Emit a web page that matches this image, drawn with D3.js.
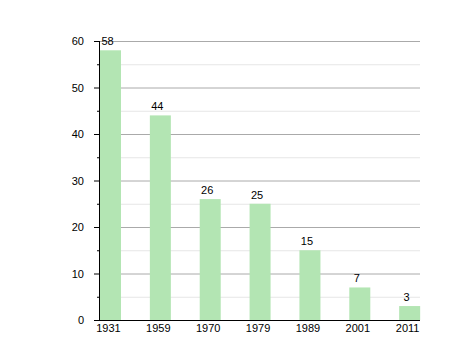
<!DOCTYPE html>
<html>
<head>
<meta charset="utf-8">
<script src="https://cdn.jsdelivr.net/npm/d3@7"></script>
<style>
  body { margin: 0; background: #fff; }
  text { font-family: "Liberation Sans", Arial, sans-serif; font-size: 11px; fill: #000; }
</style>
</head>
<body>
<svg id="chart" width="458" height="360"></svg>
<script>
const years = ["1931", "1959", "1970", "1979", "1989", "2001", "2011"];
const values = [58, 44, 26, 25, 15, 7, 3];
const majorTicks = [0, 10, 20, 30, 40, 50, 60];
const minorTicks = [5, 15, 25, 35, 45, 55];

const svg = d3.select("#chart");
const plotLeft = 99, plotRight = 420, plotTop = 41, plotBottom = 320;

const y = d3.scaleLinear().domain([0, 60]).range([plotBottom, plotTop]);
const step = 49.86;
const x = d3.scaleBand().domain(years).range([100, 100 + step * years.length]).padding(0);
const barW = 21;

// minor grid
svg.append("g").selectAll("line").data(minorTicks).enter().append("line")
  .attr("x1", plotLeft).attr("x2", plotRight)
  .attr("y1", d => y(d) + 0.5).attr("y2", d => y(d) + 0.5)
  .attr("stroke", "#e6e6e6");

// major grid
svg.append("g").selectAll("line").data(majorTicks.filter(d => d > 0)).enter().append("line")
  .attr("x1", plotLeft).attr("x2", plotRight)
  .attr("y1", d => y(d) + 0.5).attr("y2", d => y(d) + 0.5)
  .attr("stroke", "#aaaaaa");

// bars
svg.append("g").selectAll("rect").data(values).enter().append("rect")
  .attr("x", (d, i) => x(years[i]))
  .attr("y", d => y(d))
  .attr("width", barW)
  .attr("height", d => plotBottom - y(d))
  .attr("fill", "#b3e5b3");

// value labels
svg.append("g").selectAll("text").data(values).enter().append("text")
  .attr("x", (d, i) => x(years[i]) + barW / 2 - 3)
  .attr("y", d => y(d) - 5)
  .attr("text-anchor", "middle")
  .text(d => d);

// y axis
const yAxis = svg.append("g");
yAxis.append("line").attr("x1", plotLeft + 0.5).attr("x2", plotLeft + 0.5)
  .attr("y1", plotTop).attr("y2", plotBottom).attr("stroke", "#000");
yAxis.selectAll(".maj").data(majorTicks).enter().append("line")
  .attr("x1", plotLeft - 5).attr("x2", plotLeft)
  .attr("y1", d => y(d) + 0.5).attr("y2", d => y(d) + 0.5)
  .attr("stroke", "#000");
yAxis.selectAll(".min").data(minorTicks).enter().append("line")
  .attr("x1", plotLeft - 2).attr("x2", plotLeft)
  .attr("y1", d => y(d) + 0.5).attr("y2", d => y(d) + 0.5)
  .attr("stroke", "#000");
yAxis.selectAll("text").data(majorTicks).enter().append("text")
  .attr("x", 84)
  .attr("y", d => y(d) + 4)
  .attr("text-anchor", "end")
  .text(d => d);

// x axis
svg.append("line").attr("x1", plotLeft).attr("x2", plotRight)
  .attr("y1", plotBottom + 0.5).attr("y2", plotBottom + 0.5).attr("stroke", "#000");
svg.append("g").selectAll("text").data(years).enter().append("text")
  .attr("x", d => x(d) + barW / 2 - 2)
  .attr("y", plotBottom + 12)
  .attr("text-anchor", "middle")
  .text(d => d);
</script>
</body>
</html>
